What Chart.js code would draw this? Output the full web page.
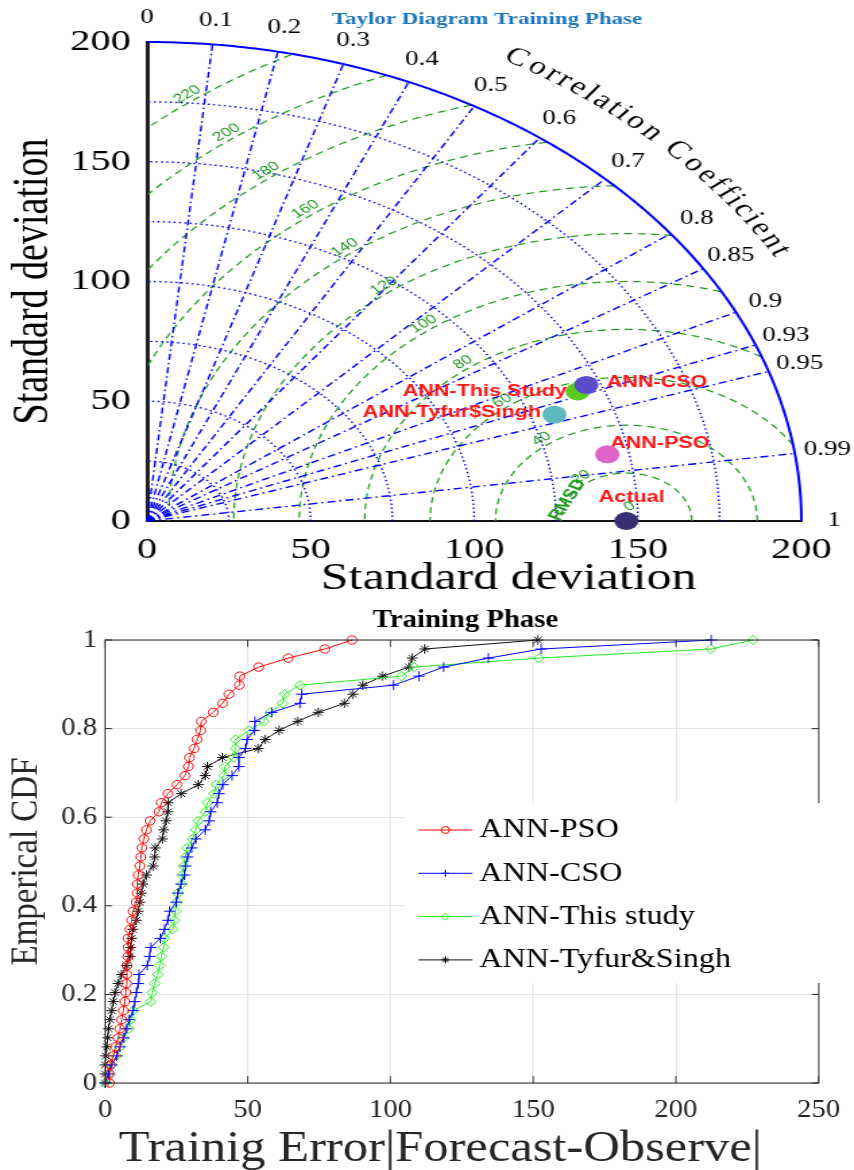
<!DOCTYPE html>
<html>
<head>
<meta charset="utf-8">
<title>Taylor Diagram and Emperical CDF - Training Phase</title>
<script src="https://cdn.jsdelivr.net/npm/chart.js@4.4.1/dist/chart.umd.min.js"></script>
<style>
  html, body { margin: 0; padding: 0; background: #ffffff; }
  body { position: relative; width: 854px; height: 1170px; overflow: hidden; }
  /* the source figure is stretched sideways, so each canvas is widened with CSS */
  .panel { position: absolute; left: 0; transform-origin: 0 0; }
  .panel canvas { display: block; }
  #taylorPanel { top: 0; transform: scaleX(1.3491); }
  #cdfPanel { top: 600px; transform: scaleX(1.1494); }
</style>
</head>
<body>
<div id="taylorPanel" class="panel"><canvas id="taylorChart" width="633" height="600"></canvas></div>
<div id="cdfPanel" class="panel"><canvas id="cdfChart" width="743" height="570"></canvas></div>
<script>
/////////////////// TAYLOR DIAGRAM DATA ///////////////////////////////////////
const corrTicks = [0, 0.1, 0.2, 0.3, 0.4, 0.5, 0.6, 0.7, 0.8, 0.85, 0.9, 0.93, 0.95, 0.99, 1];
const stdTicks = [0, 50, 100, 150, 200];
const stdArcs = [25, 50, 75, 100, 125, 150, 175, 200];
const rmsdArcs = [20, 40, 60, 80, 100, 120, 140, 160, 180, 200, 220];
const refStd = 146.5;
const modelNames = ["Actual", "ANN-PSO", "ANN-Tyfur$Singh", "ANN-CSO", "ANN-This Study"];
const modelStd = [146.5, 143.4, 132.2, 145.8, 142.3];
const modelCorr = [1, 0.981, 0.942, 0.921, 0.925];

/////////////////// EMPIRICAL CDF DATA ////////////////////////////////////////
const cdfNames = ["ANN-PSO", "ANN-CSO", "ANN-This study", "ANN-Tyfur&Singh"];
const errTicks = [0, 50, 100, 150, 200, 250];
const cdfTicks = [0, 0.2, 0.4, 0.6, 0.8, 1];
const cdfLevels = [0, 0.0204, 0.0408, 0.0612, 0.0816, 0.102, 0.1224, 0.1429, 0.1633, 0.1837,
  0.2041, 0.2245, 0.2449, 0.2653, 0.2857, 0.3061, 0.3265, 0.3469, 0.3673, 0.3878,
  0.4082, 0.4286, 0.449, 0.4694, 0.4898, 0.5102, 0.5306, 0.551, 0.5714, 0.5918,
  0.6122, 0.6327, 0.6531, 0.6735, 0.6939, 0.7143, 0.7347, 0.7551, 0.7755, 0.7959,
  0.8163, 0.8367, 0.8571, 0.8776, 0.898, 0.9184, 0.9388, 0.9592, 0.9796, 1];
const errPSO = [1.5, 1.5, 1.8, 2.9, 3.7, 4.6, 5.2, 5.8, 6.4, 6.9,
  7.3, 7.5, 7.6, 7.7, 8.0, 8.1, 8.1, 8.7, 9.3, 9.8,
  10.9, 11.3, 11.3, 11.6, 12.2, 12.5, 12.9, 13.6, 14.5, 15.8,
  18.9, 19.7, 22.0, 25.2, 28.0, 29.2, 29.6, 31.2, 32.2, 33.5,
  33.7, 37.9, 41.2, 43.4, 47.0, 47.2, 53.8, 64.2, 77.0, 86.5];
const errCSO = [0, 1.2, 2.3, 4.1, 5.2, 6.6, 7.5, 8.4, 9.8, 10.4,
  11.0, 11.6, 11.9, 14.8, 15.6, 16.0, 19.4, 20.8, 22.0, 22.6,
  24.9, 25.5, 26.6, 27.8, 28.2, 28.9, 30.4, 31.8, 35.1, 36.5,
  37.0, 39.3, 39.9, 41.3, 44.5, 46.9, 46.9, 49.2, 49.8, 52.3,
  52.5, 58.4, 68.3, 68.9, 101.0, 110.0, 118.6, 134.3, 152.8, 212.4];
const errThis = [0, 1.2, 2.3, 4.0, 5.2, 6.5, 8.3, 9.0, 9.8, 16.0,
  16.5, 17.4, 18.5, 19.1, 19.7, 20.5, 20.8, 23.7, 24.3, 24.7,
  25.1, 25.5, 26.9, 27.0, 27.6, 28.1, 28.7, 30.7, 31.8, 32.6,
  35.1, 35.9, 38.2, 39.0, 41.7, 42.0, 45.1, 45.7, 45.7, 50.5,
  55.6, 57.8, 62.2, 62.9, 68.3, 103.8, 108.3, 152.0, 212.2, 227.0];
const errTyfur = [0, 0, 0, 0.2, 0.6, 0.9, 1.2, 1.7, 2.3, 2.9,
  3.5, 4.6, 5.8, 7.5, 8.7, 9.0, 9.3, 9.8, 11.0, 11.6,
  12.2, 12.7, 13.3, 14.5, 16.8, 17.4, 17.6, 20.1, 20.5, 21.4,
  22.0, 22.1, 26.7, 32.7, 35.1, 35.9, 41.1, 53.7, 56.1, 61.0,
  67.5, 74.7, 83.9, 86.8, 90.3, 97.2, 106.5, 107.6, 112.0, 151.6];

/////////////////// STYLES ////////////////////////////////////////////////////
const SERIF = "'Liberation Serif', 'Times New Roman', serif";
const SANS = "'Liberation Sans', Arial, sans-serif";
const modelColors = ["#372f72", "#e063c8", "#5cb9c0", "#5a4bc9", "#5ccb1f"];
// label offset from the marker (canvas px) and alignment
const modelLabelPos = [[4, -23, "center"], [2, -11, "left"], [-10, -2, "right"], [15, -2, "left"], [-8, 0, "right"]];
const cdfColors = ["#ff0000", "#0000ff", "#22ee22", "#111111"];
const cdfMarkers = ["circle", "cross", "rectRot", "star"];
const cdfRadius = [4.2, 5, 4.7, 4.7];

// standard deviation + correlation -> position on the quarter circle
function toXY(std, corr) {
  return { x: std * corr, y: std * Math.sqrt(1 - corr * corr) };
}

// write text along an arc of radius R (data units) from angle a0 to a1 (degrees)
function textOnArc(ctx, P, text, R, a0, a1) {
  const n = 300, pts = [], dist = [0];
  for (let i = 0; i <= n; i++) {
    const t = (a0 + (a1 - a0) * i / n) * Math.PI / 180;
    pts.push(P(R * Math.cos(t), R * Math.sin(t)));
    if (i) dist.push(dist[i - 1] + Math.hypot(pts[i][0] - pts[i - 1][0], pts[i][1] - pts[i - 1][1]));
  }
  const chars = [...text];
  const w = chars.map(c => ctx.measureText(c).width);
  const centers = [0];
  for (let i = 1; i < chars.length; i++) centers.push(centers[i - 1] + (w[i - 1] + w[i]) / 2);
  const k = dist[n] / centers[centers.length - 1];
  chars.forEach((c, i) => {
    const d = centers[i] * k;
    let j = 1;
    while (j < n && dist[j] < d) j++;
    const p0 = pts[j - 1], p1 = pts[j];
    const f = (d - dist[j - 1]) / ((dist[j] - dist[j - 1]) || 1);
    ctx.save();
    ctx.translate(p0[0] + (p1[0] - p0[0]) * f, p0[1] + (p1[1] - p0[1]) * f);
    ctx.rotate(Math.atan2(p1[1] - p0[1], p1[0] - p0[0]));
    ctx.fillText(c, 0, 0);
    ctx.restore();
  });
}

function rotatedText(ctx, text, p, angle) {
  ctx.save();
  ctx.translate(p[0], p[1]);
  ctx.rotate(angle);
  ctx.fillText(text, 0, 0);
  ctx.restore();
}

/////////////////// TAYLOR GRID PLUGIN ////////////////////////////////////////
const taylorGrid = {
  id: "taylorGrid",
  beforeDatasetsDraw(chart) {
    const ctx = chart.ctx;
    const P = (x, y) => [chart.scales.x.getPixelForValue(x), chart.scales.y.getPixelForValue(y)];
    const rMax = stdArcs[stdArcs.length - 1];
    const rad = Math.PI / 180;
    ctx.save();

    // RMSD circles round the reference point, kept inside the quarter circle
    ctx.strokeStyle = "#1f9a1f";
    ctx.lineWidth = 1.2;
    ctx.setLineDash([6, 4]);
    rmsdArcs.forEach(r => {
      ctx.beginPath();
      let open = false;
      for (let a = 0; a <= 180; a += 0.25) {
        const x = refStd + r * Math.cos(a * rad), y = r * Math.sin(a * rad);
        if (x < 0 || Math.hypot(x, y) > rMax) { open = false; continue; }
        const p = P(x, y);
        if (open) ctx.lineTo(p[0], p[1]); else ctx.moveTo(p[0], p[1]);
        open = true;
      }
      ctx.stroke();
    });

    // correlation rays
    ctx.strokeStyle = "#0000ff";
    ctx.lineWidth = 1.4;
    ctx.setLineDash([6, 3, 1.5, 3]);
    corrTicks.forEach(c => {
      if (c <= 0 || c >= 1) return;
      const o = P(0, 0), e = P(rMax * c, rMax * Math.sqrt(1 - c * c));
      ctx.beginPath();
      ctx.moveTo(o[0], o[1]);
      ctx.lineTo(e[0], e[1]);
      ctx.stroke();
    });

    // standard deviation arcs, the outer one solid
    stdArcs.forEach(r => {
      const outer = r === rMax;
      ctx.lineWidth = outer ? 2 : 1.4;
      ctx.setLineDash(outer ? [] : [1.5, 2.5]);
      ctx.beginPath();
      for (let a = 0; a <= 90; a += 0.5) {
        const p = P(r * Math.cos(a * rad), r * Math.sin(a * rad));
        if (a === 0) ctx.moveTo(p[0], p[1]); else ctx.lineTo(p[0], p[1]);
      }
      ctx.stroke();
    });
    ctx.setLineDash([]);

    // correlation labels
    ctx.fillStyle = "#000";
    ctx.textAlign = "center";
    ctx.textBaseline = "middle";
    ctx.font = "20px " + SERIF;
    corrTicks.forEach(c => {
      const p = P(210 * c, 210 * Math.sqrt(1 - c * c));
      ctx.fillText(String(c), p[0], p[1]);
    });
    ctx.font = "25px " + SERIF;
    textOnArc(ctx, P, "Correlation Coefficient", 224, 59.7, 30.2);

    // RMSD labels
    ctx.fillStyle = "#1f9a1f";
    ctx.font = "13px " + SANS;
    rmsdArcs.forEach(r => {
      const rr = r + 3;
      const x = refStd + rr * Math.cos(127 * rad), y = rr * Math.sin(127 * rad);
      if (x < 0 || Math.hypot(x, y) > rMax) return;
      const p = P(x, y), q = P(refStd + rr * Math.cos(126 * rad), rr * Math.sin(126 * rad));
      rotatedText(ctx, String(r), p, Math.atan2(q[1] - p[1], q[0] - p[0]));
    });
    {
      const r0 = rmsdArcs[0];
      const p = P(refStd + r0 * Math.cos(154 * rad), r0 * Math.sin(154 * rad));
      const q = P(refStd + r0 * Math.cos(153 * rad), r0 * Math.sin(153 * rad));
      ctx.font = "bold 15px " + SANS;
      rotatedText(ctx, "RMSD", p, Math.atan2(q[1] - p[1], q[0] - p[0]));
      ctx.font = "13px " + SANS;
      rotatedText(ctx, "0", P(refStd + 1, 6), -0.6);
    }

    // model labels, under the markers
    ctx.fillStyle = "#ff1414";
    ctx.font = "bold 16px " + SANS;
    modelNames.forEach((name, i) => {
      const m = toXY(modelStd[i], modelCorr[i]);
      const p = P(m.x, m.y), o = modelLabelPos[i];
      ctx.textAlign = o[2];
      ctx.fillText(name, p[0] + o[0], p[1] + o[1]);
    });

    // titles
    ctx.textAlign = "center";
    ctx.fillStyle = "#1b75bb";
    ctx.font = "bold 17px " + SERIF;
    ctx.fillText("Taylor Diagram Training Phase", 361, 20);
    ctx.fillStyle = "#000";
    ctx.font = "37px " + SERIF;
    ctx.fillText("Standard deviation", 377, 579);
    ctx.restore();
  }
};

/////////////////// CDF FRAME + LEGEND PLUGIN /////////////////////////////////
function drawMarker(ctx, style, x, y, r) {
  ctx.beginPath();
  if (style === "circle") {
    ctx.arc(x, y, r, 0, Math.PI * 2);
  } else if (style === "rectRot") {
    ctx.moveTo(x, y - r); ctx.lineTo(x + r, y); ctx.lineTo(x, y + r); ctx.lineTo(x - r, y); ctx.closePath();
  } else {
    ctx.moveTo(x - r, y); ctx.lineTo(x + r, y); ctx.moveTo(x, y - r); ctx.lineTo(x, y + r);
    if (style === "star") {
      const d = r * 0.7;
      ctx.moveTo(x - d, y - d); ctx.lineTo(x + d, y + d); ctx.moveTo(x - d, y + d); ctx.lineTo(x + d, y - d);
    }
  }
  ctx.stroke();
}

const cdfFrame = {
  id: "cdfFrame",
  afterDraw(chart) {
    const ctx = chart.ctx, a = chart.chartArea;
    const xs = chart.scales.x, ys = chart.scales.y;
    ctx.save();
    ctx.strokeStyle = "#262626";
    ctx.lineWidth = 1;
    ctx.strokeRect(a.left, a.top, a.right - a.left, a.bottom - a.top);
    ctx.beginPath();
    xs.ticks.forEach(t => {
      const x = xs.getPixelForValue(t.value);
      ctx.moveTo(x, a.bottom); ctx.lineTo(x, a.bottom - 7);
      ctx.moveTo(x, a.top); ctx.lineTo(x, a.top + 7);
    });
    ys.ticks.forEach(t => {
      const y = ys.getPixelForValue(t.value);
      ctx.moveTo(a.left, y); ctx.lineTo(a.left + 6, y);
      ctx.moveTo(a.right, y); ctx.lineTo(a.right - 6, y);
    });
    ctx.stroke();

    // legend inside the axes
    ctx.fillStyle = "#fff";
    ctx.fillRect(352, 203, 362, 180);
    ctx.font = "28px " + SERIF;
    ctx.textAlign = "left";
    ctx.textBaseline = "middle";
    cdfNames.forEach((name, i) => {
      const y = 230 + i * 43.3;
      ctx.strokeStyle = cdfColors[i];
      ctx.beginPath();
      ctx.moveTo(364, y); ctx.lineTo(411, y);
      ctx.stroke();
      drawMarker(ctx, cdfMarkers[i], 387.5, y, 3.5);
      ctx.fillStyle = "#000";
      ctx.fillText(name, 417, y);
    });

    // titles
    ctx.textAlign = "center";
    ctx.fillStyle = "#000";
    ctx.font = "bold 25px " + SERIF;
    ctx.fillText("Training Phase", 405, 21);
    ctx.fillStyle = "#262626";
    ctx.font = "44px " + SERIF;
    ctx.fillText("Trainig Error|Forecast-Observe|", 383, 549);
    ctx.restore();
  }
};

/////////////////// TAYLOR DIAGRAM CHART //////////////////////////////////////
function taylorChart() {
  const datasets = modelNames.map((name, i) => ({
    label: name,
    data: [toXY(modelStd[i], modelCorr[i])],
    pointRadius: 9,
    pointHoverRadius: 9,
    pointBackgroundColor: modelColors[i],
    pointBorderWidth: 0,
    clip: false
  }));

  new Chart(document.getElementById("taylorChart"), {
    type: "scatter",
    data: { datasets: datasets },
    options: {
      responsive: false,
      animation: false,
      events: [],
      layout: { padding: { top: 42, right: 39, left: 0, bottom: 0 } },
      plugins: { legend: { display: false }, tooltip: { enabled: false } },
      scales: {
        x: {
          min: stdTicks[0], max: stdTicks[stdTicks.length - 1],
          ticks: { stepSize: 50, padding: 11, color: "#000", maxRotation: 0, font: { family: SERIF, size: 30 } },
          grid: { display: false, drawTicks: false },
          border: { color: "#111", width: 2 },
          afterFit: (s) => { s.height = 79; }
        },
        y: {
          min: stdTicks[0], max: stdTicks[stdTicks.length - 1],
          ticks: { stepSize: 50, padding: 12, color: "#000", font: { family: SERIF, size: 30 } },
          grid: { display: false, drawTicks: false },
          border: { color: "#222", width: 3 },
          title: { display: true, text: "Standard deviation", color: "#000", padding: 2, font: { family: SERIF, size: 38 } },
          afterFit: (s) => { s.width = 109; }
        }
      }
    },
    plugins: [taylorGrid]
  });
}

/////////////////// EMPIRICAL CDF CHART ///////////////////////////////////////
function cdfChart() {
  const errors = [errPSO, errCSO, errThis, errTyfur];
  const datasets = cdfNames.map((name, i) => ({
    label: name,
    data: errors[i].map((e, k) => ({ x: e, y: cdfLevels[k] })),
    showLine: true,
    tension: 0,
    borderColor: cdfColors[i],
    borderWidth: 1,
    pointStyle: cdfMarkers[i],
    pointRadius: cdfRadius[i],
    pointBorderColor: cdfColors[i],
    pointBackgroundColor: "rgba(0,0,0,0)",
    pointBorderWidth: 1,
    clip: false
  }));

  new Chart(document.getElementById("cdfChart"), {
    type: "scatter",
    data: { datasets: datasets },
    options: {
      responsive: false,
      animation: false,
      events: [],
      layout: { padding: { top: 40, right: 25.2, left: 0, bottom: 0 } },
      plugins: { legend: { display: false }, tooltip: { enabled: false } },
      scales: {
        x: {
          min: errTicks[0], max: errTicks[errTicks.length - 1],
          ticks: { stepSize: 50, padding: 12, color: "#262626", maxRotation: 0, font: { family: SERIF, size: 25 } },
          grid: { color: "#e3e3e3", drawTicks: false },
          border: { display: false },
          afterFit: (s) => { s.height = 87; }
        },
        y: {
          min: cdfTicks[0], max: cdfTicks[cdfTicks.length - 1],
          ticks: { stepSize: 0.2, padding: 7, color: "#262626", font: { family: SERIF, size: 25 },
                   callback: (v) => String(+v.toFixed(1)) },
          grid: { color: "#e3e3e3", drawTicks: false },
          border: { display: false },
          title: { display: true, text: "Emperical CDF", color: "#262626", padding: 4, font: { family: SERIF, size: 33 } },
          afterFit: (s) => { s.width = 91.4; }
        }
      }
    },
    plugins: [cdfFrame]
  });
}

taylorChart();
cdfChart();
</script>
</body>
</html>
